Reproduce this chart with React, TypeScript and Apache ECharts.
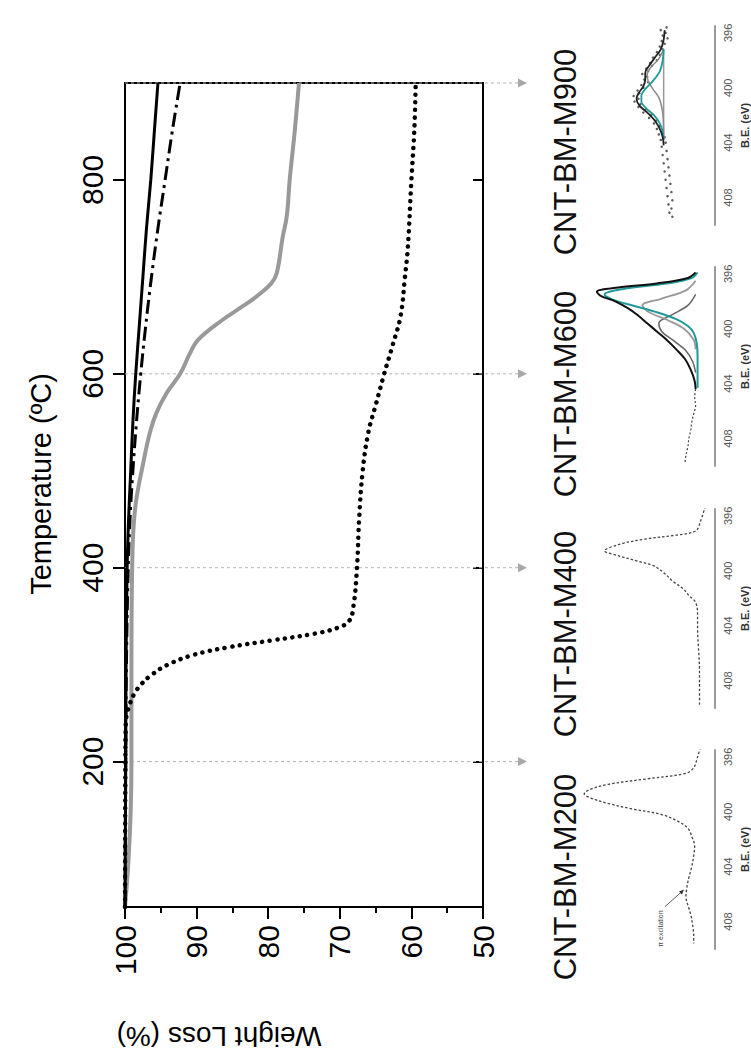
import React, { useEffect, useRef } from "react";
import * as echarts from "echarts";

const FONT = "'Liberation Sans', Arial, Helvetica, sans-serif";

// ---------- TGA curves (temperature °C, weight %) ----------
const tempSolid = [50, 200, 300, 400, 450, 500, 550, 600, 650, 700, 750, 800, 850, 900];
const wSolid = [100, 99.9, 99.85, 99.7, 99.5, 99.2, 98.9, 98.5, 98.0, 97.5, 97.0, 96.4, 95.9, 95.4];

const tempDashDot = [50, 200, 300, 400, 450, 500, 550, 600, 650, 700, 750, 800, 850, 900];
const wDashDot = [100, 99.9, 99.8, 99.55, 99.3, 98.9, 98.4, 97.8, 97.1, 96.3, 95.4, 94.4, 93.4, 92.3];

const tempGrey = [50, 100, 150, 200, 300, 400, 460, 510, 540, 560, 580, 600, 620, 635, 655, 670, 680, 693, 704, 740, 763, 800, 850, 900];
const wGrey = [100, 99.5, 99.2, 99.1, 99.1, 99.0, 98.6, 97.4, 96.5, 95.6, 94.2, 92.3, 91.0, 89.8, 86.5, 83.5, 81.6, 79.6, 78.8, 78.0, 77.4, 77.0, 76.3, 75.7];

const tempDotted = [50, 200, 240, 250, 260, 270, 280, 290, 300, 310, 318, 325, 332, 338, 345, 360, 400, 450, 500, 540, 570, 600, 630, 660, 700, 730, 800, 850, 900];
const wDotted = [100, 99.95, 99.9, 99.7, 99.3, 98.7, 97.7, 96.2, 94.0, 90.5, 85.5, 79.5, 73.5, 70.3, 68.7, 68.1, 67.6, 67.3, 66.8, 66.0, 64.9, 63.8, 62.6, 61.5, 60.9, 60.5, 60.0, 59.6, 59.4];

const tempTicks = [200, 400, 600, 800];
const guideTemps = [900, 600, 400, 200];

// ---------- XPS N1s insets (binding energy eV, intensity a.u.) ----------
const sampleNames = ["CNT-BM-M900", "CNT-BM-M600", "CNT-BM-M400", "CNT-BM-M200"];
const beTicks = [396, 400, 404, 408];

// M200
const beM200 = [395.3, 396.0, 396.8, 397.2, 397.6, 398.0, 398.4, 398.7, 399.0, 399.4, 399.8, 400.2, 400.7, 401.2, 401.8, 402.5, 403.2, 404.0, 404.8, 405.5, 406.2, 406.8, 407.5, 408.3, 409.0, 409.6];
const iM200 = [15, 18, 22, 30, 70, 110, 130, 135, 128, 110, 85, 55, 38, 28, 24, 21, 22, 24, 27, 29, 30, 28, 25, 23, 22, 22];

// M400
const beM400 = [395.3, 396.4, 397.1, 397.4, 397.7, 398.1, 398.55, 398.9, 399.3, 399.65, 400.2, 400.8, 401.3, 401.8, 402.3, 403.2, 404.2, 405.7, 407.2, 408.6, 409.8];
const iM400 = [10, 15, 20, 40, 73, 100, 114, 100, 80, 63, 52, 43, 33, 27, 20, 18, 18, 17, 16, 16, 16];

// M600
const beM600Env = [395.9, 396.3, 396.7, 397.0, 397.3, 397.6, 398.0, 398.5, 399.0, 399.6, 400.2, 400.8, 401.5, 402.2, 403.0, 403.8, 404.4];
const iM600Env = [20, 28, 60, 100, 122, 118, 103, 90, 80, 70, 60, 50, 40, 31, 25, 21, 20];
const beM600Teal = [395.9, 396.3, 396.7, 397.1, 397.5, 397.9, 398.3, 398.8, 399.3, 399.8, 400.3, 401.0, 402.0, 403.0, 404.3];
const iM600Teal = [18, 24, 50, 95, 114, 105, 85, 60, 40, 28, 22, 19, 18, 18, 18];
const beM600G1 = [396.5, 397.2, 397.8, 398.3, 398.8, 399.4, 400.0, 400.8, 401.5];
const iM600G1 = [20, 30, 55, 75, 68, 48, 32, 22, 20];
const beM600G2 = [397.5, 398.3, 399.0, 399.6, 400.2, 400.9, 401.6, 402.4, 403.2];
const iM600G2 = [20, 28, 45, 58, 55, 42, 30, 23, 20];
const beM600Raw = [404.4, 405.0, 405.6, 406.2, 406.8, 407.4, 408.0, 408.6, 409.2, 409.8];
const iM600Raw = [20, 21, 20, 22, 24, 25, 27, 28, 30, 31];

// M900
const beM900Env = [395.8, 396.5, 397.2, 397.8, 398.4, 398.9, 399.4, 399.9, 400.4, 400.8, 401.3, 401.8, 402.4, 403.0, 403.6, 404.2];
const iM900Env = [52, 53, 56, 62, 68, 72, 72, 74, 79, 81, 78, 70, 62, 57, 54, 53];
const beM900Teal = [397.2, 398.0, 398.8, 399.5, 400.1, 400.6, 401.0, 401.5, 402.0, 402.6, 403.2, 403.8];
const iM900Teal = [53, 54, 57, 64, 72, 76, 76, 71, 63, 57, 54, 53];
const beM900Grey = [397.2, 397.9, 398.5, 399.0, 399.5, 400.1, 400.7, 401.4, 402.2, 403.8];
const iM900Grey = [53, 58, 66, 70, 69, 64, 58, 55, 53.5, 53];
const beM900Base = [397.2, 403.8];
const iM900Base = [53, 53];
const beM900Pts = [395.6, 395.8, 396.0, 396.2, 396.4, 396.6, 396.8, 397.0, 397.2, 397.4, 397.6, 397.8, 398.0, 398.2, 398.4, 398.6, 398.8, 399.0, 399.2, 399.4, 399.6, 399.8, 400.0, 400.2, 400.4, 400.6, 400.8, 401.0, 401.2, 401.4, 401.6, 401.8, 402.0, 402.2, 402.4, 402.6, 402.8, 403.0, 403.2, 403.4, 403.6, 403.8, 404.0, 404.3, 404.6, 404.9, 405.2, 405.5, 405.8, 406.1, 406.4, 406.7, 407.0, 407.3, 407.6, 407.9, 408.2, 408.5, 408.8, 409.1, 409.4];
const iM900Pts = [50, 56, 51, 54, 49, 55, 52, 57, 54, 60, 57, 64, 60, 67, 65, 71, 69, 75, 70, 73, 69, 76, 74, 80, 78, 84, 79, 83, 77, 79, 72, 74, 66, 68, 61, 63, 57, 60, 54, 58, 52, 56, 51, 55, 50, 54, 49, 53, 48, 52, 47, 51, 46, 50, 45, 49, 44, 48, 45, 47, 44];

const insetTops = [26, 267, 509, 750];
const labelCenters = [152, 394, 634, 877];

const tga = (w: number[], t: number[]) => t.map((v, i) => [w[i], v]);
const xps = (be: number[], it: number[]) => be.map((b, i) => [it[i], b]);

export default function App() {
  const ref = useRef<HTMLDivElement>(null);
  useEffect(() => {
    if (!ref.current) return;
    const chart = echarts.init(ref.current, null, { renderer: "svg" });
    const black = { color: "#000", width: 2 };

    // inset k (0..3) lives on grid k+1, xAxis k+1, yAxis k+2
    const insetSeries = (k: number, data: number[][], style: any, extra: any = {}) => ({
      type: "line",
      xAxisIndex: k + 1,
      yAxisIndex: k + 2,
      data,
      symbol: "none",
      showSymbol: false,
      smooth: 0.35,
      lineStyle: style,
      z: 3,
      ...extra,
    });

    const option: any = {
      animation: false,
      backgroundColor: "#fff",
      textStyle: { fontFamily: FONT },
      grid: [
        { left: 125, top: 83, width: 358, height: 824, show: true, borderColor: "#000", borderWidth: 2 },
        ...insetTops.map((t) => ({ left: 560, top: t, width: 160, height: 199 })),
      ],
      xAxis: [
        {
          gridIndex: 0, type: "value", min: 50, max: 100, interval: 10, inverse: true, position: "bottom",
          axisLine: { show: true, lineStyle: black },
          axisTick: { show: true, length: 12, lineStyle: black },
          minorTick: { show: true, splitNumber: 2, length: 6, lineStyle: black },
          axisLabel: { rotate: 90, fontSize: 30, color: "#000", margin: 18, fontFamily: FONT },
          splitLine: { show: false },
        },
        ...insetTops.map((_, i) => ({ gridIndex: i + 1, type: "value", min: 0, max: 160, inverse: true, show: false })),
      ],
      yAxis: [
        {
          gridIndex: 0, type: "value", min: 50, max: 900, position: "left",
          axisLine: { show: true, lineStyle: black },
          axisTick: { show: true, customValues: tempTicks, length: 12, lineStyle: black },
          axisLabel: { customValues: tempTicks, rotate: 90, fontSize: 30, color: "#000", margin: 18, fontFamily: FONT },
          splitLine: { show: false },
        },
        {
          gridIndex: 0, type: "value", min: 50, max: 900, position: "right",
          axisLine: { show: true, lineStyle: black },
          axisTick: { show: true, customValues: tempTicks, inside: true, length: 10, lineStyle: black },
          axisLabel: { show: false },
          splitLine: { show: false },
        },
        ...insetTops.map((_, i) => ({
          gridIndex: i + 1, type: "value", min: 395.5, max: 410, inverse: true, position: "right",
          axisLine: { show: true, lineStyle: { color: "#9a9a9a", width: 2 } },
          axisTick: { show: false },
          axisLabel: { customValues: beTicks, rotate: 90, fontSize: 11, color: "#555", margin: 7, fontFamily: FONT },
          splitLine: { show: false },
          name: "B.E. (eV)", nameLocation: "middle", nameRotate: 90, nameGap: 24,
          nameTextStyle: { fontSize: 11, fontWeight: "bold", color: "#333", fontFamily: FONT },
        })),
      ],
      series: [
        {
          type: "line", name: "solid", xAxisIndex: 0, yAxisIndex: 0, data: tga(wSolid, tempSolid),
          symbol: "none", smooth: 0.4, lineStyle: { color: "#000", width: 3 }, z: 4,
        },
        {
          type: "line", name: "dashdot", xAxisIndex: 0, yAxisIndex: 0, data: tga(wDashDot, tempDashDot),
          symbol: "none", smooth: 0.4, lineStyle: { color: "#000", width: 3, type: [14, 5, 3, 5] }, z: 4,
        },
        {
          type: "line", name: "grey", xAxisIndex: 0, yAxisIndex: 0, data: tga(wGrey, tempGrey),
          symbol: "none", smooth: 0.4, lineStyle: { color: "#999", width: 4 }, z: 3,
        },
        {
          type: "line", name: "dotted", xAxisIndex: 0, yAxisIndex: 0, data: tga(wDotted, tempDotted),
          symbol: "none", smooth: 0.4, lineStyle: { color: "#000", width: 4.5, type: [0.1, 7.5], cap: "round" }, z: 4,
        },
        // M900
        insetSeries(0, xps(beM900Base, iM900Base), { color: "#999", width: 1.5 }, { smooth: false }),
        insetSeries(0, xps(beM900Grey, iM900Grey), { color: "#8a8a8a", width: 1.5 }),
        insetSeries(0, xps(beM900Teal, iM900Teal), { color: "#1f9a98", width: 1.8 }),
        insetSeries(0, xps(beM900Env, iM900Env), { color: "#222", width: 1.8 }),
        {
          type: "scatter", xAxisIndex: 1, yAxisIndex: 2, data: xps(beM900Pts, iM900Pts),
          symbolSize: 2.5, itemStyle: { color: "#333" }, z: 2,
        },
        // M600
        insetSeries(1, xps(beM600G2, iM600G2), { color: "#666", width: 1.5 }),
        insetSeries(1, xps(beM600G1, iM600G1), { color: "#999", width: 1.8 }),
        insetSeries(1, xps(beM600Teal, iM600Teal), { color: "#1f9a98", width: 2 }),
        insetSeries(1, xps(beM600Env, iM600Env), { color: "#111", width: 2 }),
        insetSeries(1, xps(beM600Raw, iM600Raw), { color: "#444", width: 1.2, type: [2, 2] }),
        // M400
        insetSeries(2, xps(beM400, iM400), { color: "#444", width: 1.3, type: [2.5, 2] }),
        // M200
        insetSeries(3, xps(beM200, iM200), { color: "#444", width: 1.3, type: [2.5, 2] }),
      ],
    };
    chart.setOption(option);

    const xL = chart.convertToPixel({ xAxisIndex: 0 }, 100) as number;
    const xR = chart.convertToPixel({ xAxisIndex: 0 }, 50) as number;
    const g: any[] = [];
    guideTemps.forEach((t) => {
      const y = chart.convertToPixel({ yAxisIndex: 0 }, t) as number;
      g.push({
        type: "line", z: 1, silent: true,
        shape: { x1: xL, y1: y, x2: xR + 35, y2: y },
        style: { stroke: "#b3b3b3", lineWidth: 1, lineDash: [3, 3] },
      });
      g.push({
        type: "polygon", z: 1, silent: true,
        shape: { points: [[xR + 35, y - 4.5], [xR + 44, y], [xR + 35, y + 4.5]] },
        style: { fill: "#a8a8a8" },
      });
    });
    sampleNames.forEach((name, i) => {
      g.push({
        type: "text", x: 565, y: labelCenters[i], rotation: Math.PI / 2,
        style: { text: name, fontSize: 31, fontFamily: FONT, fill: "#111", align: "center", verticalAlign: "middle", textAlign: "center", textVerticalAlign: "middle" },
      });
    });
    g.push({
      type: "text", x: 41, y: 484, rotation: Math.PI / 2,
      style: { text: "Temperature (ºC)", fontSize: 29, fontFamily: FONT, fill: "#000", align: "center", verticalAlign: "middle", textAlign: "center", textVerticalAlign: "middle" },
    });
    g.push({
      type: "text", x: 219, y: 1036, rotation: Math.PI,
      style: { text: "Weight Loss (%)", fontSize: 28, fontFamily: FONT, fill: "#000", align: "center", verticalAlign: "middle", textAlign: "center", textVerticalAlign: "middle" },
    });
    // π excitation annotation on M200 inset
    const tip = chart.convertToPixel({ gridIndex: 4 }, [31, 405.6]) as number[];
    g.push({
      type: "line", z: 5, shape: { x1: tip[0] - 20, y1: tip[1] + 18, x2: tip[0] - 2, y2: tip[1] + 2 },
      style: { stroke: "#333", lineWidth: 0.8 },
    });
    g.push({
      type: "polygon", z: 5,
      shape: { points: [[tip[0] - 1, tip[1] + 1], [tip[0] - 6, tip[1] + 3], [tip[0] - 3, tip[1] + 6]] },
      style: { fill: "#333" },
    });
    g.push({
      type: "text", x: tip[0] - 24, y: tip[1] + 40, rotation: Math.PI / 2,
      style: { text: "π excitation", fontSize: 7, fontFamily: FONT, fill: "#444", align: "center", verticalAlign: "middle", textAlign: "center", textVerticalAlign: "middle" },
    });
    chart.setOption({ graphic: { elements: g } });

    return () => chart.dispose();
  }, []);

  return (
    <div
      ref={ref}
      style={{ position: "absolute", left: 0, top: 0, width: 751, height: 1059, background: "#fff" }}
    />
  );
}
